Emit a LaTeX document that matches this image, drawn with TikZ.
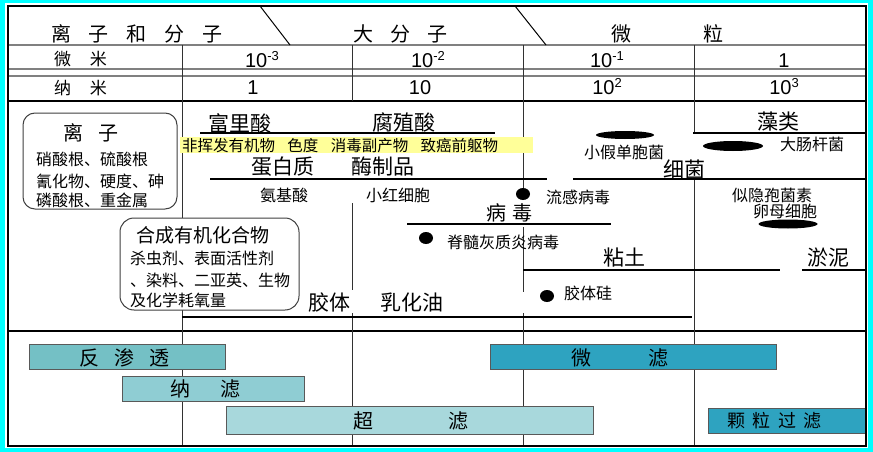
\documentclass[tikz,border=0pt]{standalone}
\usepackage{fontspec}
\setmainfont{Noto Sans CJK SC}
\newfontfamily\arialf{Liberation Sans}
\definecolor{cyanb}{RGB}{0,255,255}
\definecolor{yel}{RGB}{255,255,153}
\definecolor{cro}{RGB}{116,192,197}
\definecolor{cnf}{RGB}{143,205,211}
\definecolor{cuf}{RGB}{168,216,220}
\definecolor{cmf}{RGB}{46,163,192}
\definecolor{vline}{RGB}{50,50,50}
\definecolor{hgray}{RGB}{128,128,128}
\tikzset{
  txt/.style={inner sep=0pt, outer sep=0pt},
  hdr/.style={txt, font=\fontsize{20}{22}\selectfont},
  big/.style={txt, font=\fontsize{21}{23}\selectfont},
  sml/.style={txt, font=\fontsize{16}{18}\selectfont},
  num/.style={txt, anchor=base, font=\arialf\fontsize{20}{22}\selectfont},
  vl/.style={draw=vline, line width=1pt},
  hg/.style={draw=hgray, line width=1.5pt},
  thick line/.style={draw=black, line width=2.5pt},
  rbox/.style={draw=black!75, line width=1pt, fill=white, rounded corners=12pt},
  barbox/.style={draw=black!65, line width=1pt},
  bartxt/.style={txt, font=\fontsize{20}{22}\selectfont},
  dot/.style={fill=black}
}
\newcommand{\supr}[1]{\raisebox{7pt}{\fontsize{13}{13}\selectfont #1}}
\begin{document}
\begin{tikzpicture}[x=1pt,y=-1pt]
\useasboundingbox (0,0) rectangle (873,452);
% border
\fill[cyanb] (0,0) rectangle (873,452);
\fill[white] (5,3.5) rectangle (868,448);
% header horizontal lines
\draw[hg] (8,45) -- (866,45);
\draw[hg] (8,69) -- (866,69);
\draw[hg] (8,76) -- (866,76);
\draw[black, line width=2pt] (8,101) -- (866,101);
\draw[black, line width=2pt] (8,331) -- (866,331);
% diagonals
\draw[black, line width=1pt] (260,6) -- (290,45);
\draw[black, line width=1pt] (515,6) -- (546,45);
% vertical lines
\draw[vl] (182,45) -- (182,446);
\draw[vl] (352,45) -- (352,101);
\draw[vl] (352,203) -- (352,290);
\draw[vl] (352,313) -- (352,446);
\draw[vl] (523,45) -- (523,200);
\draw[vl] (523,227) -- (523,292);
\draw[vl] (523,313) -- (523,446);
\draw[vl] (694,45) -- (694,133);
\draw[vl] (694,179) -- (694,446);
% header texts
\node[hdr] (hion) at (137,34) {离\hspace{0.9em}子\hspace{0.9em}和\hspace{0.9em}分\hspace{0.9em}子};
\node[hdr] (hmac) at (400,34) {大\hspace{0.85em}分\hspace{0.85em}子};
\node[hdr] (hpar) at (667,34) {微\hspace{3.6em}粒};
\node[txt, font=\fontsize{17}{19}\selectfont] (rum) at (80.5,59) {微\hspace{1.1em}米};
\node[txt, font=\fontsize{17}{19}\selectfont] (rnm) at (80.5,88) {纳\hspace{1.1em}米};
\node[num] (u1) at (262,67) {10\supr{-3}};
\node[num] (u2) at (428,67) {10\supr{-2}};
\node[num] (u3) at (607,67) {10\supr{-1}};
\node[num] (u4) at (784,67) {1};
\node[num] (n1) at (253,95) {1};
\node[num] (n2) at (420,95) {10};
\node[num] (n3) at (607,95) {10\supr{2}};
\node[num] (n4) at (784,95) {10\supr{3}};
% thick range lines
\draw[thick line] (200,133) -- (495,133);
\draw[thick line] (693,133) -- (866,133);
\draw[thick line] (210,179) -- (547,179);
\draw[thick line] (573,179) -- (866,179);
\draw[thick line] (407,224) -- (611,224);
\draw[thick line] (523,270) -- (780,270);
\draw[thick line] (802,270) -- (866,270);
\draw[thick line] (182,317) -- (692,317);
% yellow band
\fill[yel] (180,137) rectangle (533,153);
\node[txt, anchor=west, font=\fontsize{15.5}{17}\selectfont] (yeltxt) at (182,145.5) {非挥发有机物\hspace{0.8em}色度\hspace{0.8em}消毒副产物\hspace{0.8em}致癌前躯物};
% ion box
\draw[rbox] (23,113) rectangle (177,209);
\node[hdr] (iont) at (90.5,133) {离\hspace{0.75em}子};
\node[sml, anchor=west] (ion1) at (36,159) {硝酸根、硫酸根};
\node[sml, anchor=west] (ion2) at (36,181) {氰化物、硬度、砷};
\node[sml, anchor=west] (ion3) at (36,200) {磷酸根、重金属};
% synthetic organics box
\draw[rbox, rounded corners=14pt] (120,218) rectangle (299,310);
\node[txt, font=\fontsize{19}{21}\selectfont] (syn) at (203,235) {合成有机化合物};
\node[sml, anchor=west] (syn1) at (130,258) {杀虫剂、表面活性剂};
\node[sml, anchor=west] (syn2) at (130,280) {、染料、二亚英、生物};
\node[sml, anchor=west] (syn3) at (130,300) {及化学耗氧量};
% main texts
\node[big] (fulvic) at (240,123) {富里酸};
\node[big] (humic) at (404,123) {腐殖酸};
\node[big] (protein) at (283,167) {蛋白质};
\node[big] (enzyme) at (383,167) {酶制品};
\node[big] (bact) at (684,169) {细菌};
\node[sml] (amino) at (284,195) {氨基酸};
\node[sml] (rbc) at (398,195) {小红细胞};
\node[sml] (pseudo) at (624,152) {小假单胞菌};
\node[big] (algae) at (778,122) {藻类};
\node[sml] (ecoli) at (812,144) {大肠杆菌};
\node[sml] (flu) at (578,197) {流感病毒};
\node[txt, font=\fontsize{20}{22}\selectfont] (virus) at (509,213) {病\hspace{0.3em}毒};
\node[sml] (polio) at (503,242) {脊髓灰质炎病毒};
\node[sml] (crypto) at (772,195) {似隐孢菌素};
\node[sml] (oocyst) at (785,211) {卵母细胞};
\node[big] (clay) at (624,258) {粘土};
\node[big] (silt) at (828,258) {淤泥};
\node[sml] (silica) at (588,293) {胶体硅};
\node[big] (colloid) at (329,303) {胶体};
\node[big] (emul) at (412,303) {乳化油};
% particle markers
\fill[dot] (625,135) ellipse [x radius=29pt, y radius=4pt];
\fill[dot] (733,146) ellipse [x radius=30pt, y radius=5pt];
\fill[dot] (788,224) ellipse [x radius=29.5pt, y radius=4.5pt];
\fill[dot] (523,194) ellipse [x radius=7pt, y radius=6pt];
\fill[dot] (426,238) ellipse [x radius=7pt, y radius=6pt];
\fill[dot] (547,296) ellipse [x radius=7pt, y radius=6pt];
% filtration bars
\draw[barbox, fill=cro] (29,344) rectangle (225,369);
\node[bartxt] (ro) at (124,358) {反\hspace{0.75em}渗\hspace{0.75em}透};
\draw[barbox, fill=cnf] (122,376) rectangle (304,401);
\node[bartxt] (nf) at (205,389) {纳\hspace{1.5em}滤};
\draw[barbox, fill=cuf] (226,406) rectangle (593,434);
\node[bartxt] (uf) at (410.5,420.5) {超\hspace{3.75em}滤};
\draw[barbox, fill=cmf] (490,344) rectangle (776,369);
\node[bartxt] (mf) at (619.5,358) {微\hspace{2.85em}滤};
\draw[barbox, fill=cmf] (708,408) rectangle (865,433);
\node[txt, font=\fontsize{18}{20}\selectfont] (pf) at (774.5,421) {颗\hspace{0.4em}粒\hspace{0.4em}过\hspace{0.4em}滤};
% frame
\draw[black, line width=2pt] (8,6) rectangle (866,446);
\end{tikzpicture}
\end{document}
